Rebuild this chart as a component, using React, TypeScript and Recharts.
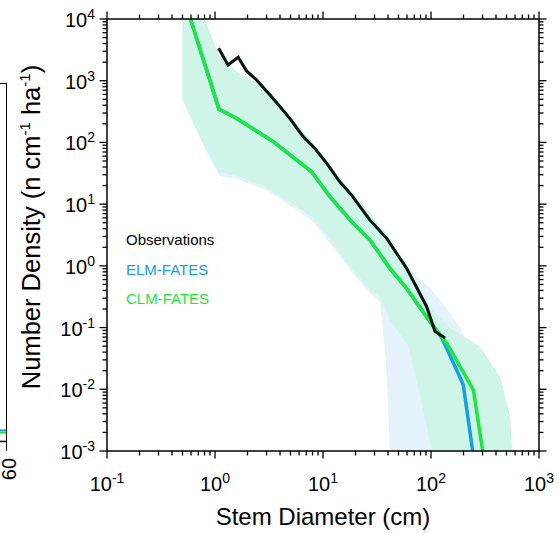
import React from 'react';
import { ComposedChart, Area, Line, XAxis, YAxis } from 'recharts';

// stem diameter (cm) where the ensemble ranges are sampled
const bandDiam = [0.5, 0.8, 1.1, 1.6, 3.0, 5.7, 8.1, 12.4, 17.8, 27.2, 33.7, 38.3, 41.7, 51.6, 61.2, 79.1, 102, 150, 207, 285, 436, 540, 564];
const clmLow = [487, 87.5, 33.2, 28.6, 18.9, 9.0, 5.96, 2.34, 0.99, 0.406, 0.313, 0.193, 0.133, 0.0786, 0.0522, 0.0081, 0.001, 1e-4, 1e-4, 1e-4, 1e-4, 1e-4, 1e-4];
const clmHigh = [50000, 10000, 2420, 1384, 734, 199, 98, 37.1, 16.9, 7.18, 4.42, 3.41, 2.83, 1.5, 0.795, 0.337, 0.193, 0.0983, 0.0678, 0.0484, 0.0158, 0.00355, 0.001];
const elmLow = [487, 81.2, 28.6, 25.5, 16.9, 8.03, 5.13, 2.02, 0.856, 0.363, 0.259, 0.0298, 0.001, 1e-4, 1e-4, 1e-4, 1e-4, 1e-4, 1e-4, 1e-4, 1e-4, 1e-4, 1e-4];
const elmHigh = [50000, 10000, 2420, 1384, 734, 199, 98, 37.1, 16.9, 7.18, 4.42, 3.41, 2.83, 1.5, 0.994, 0.589, 0.406, 0.172, 0.0703, 0.0484, 0.0158, 0.00355, 0.001];

// observations
const obsDiam = [1.08, 1.32, 1.64, 1.96, 2.42, 3.34, 4.93, 6.55, 8.41, 10.8, 14.3, 18.4, 27.2, 38.8, 59.5, 91, 109, 135];
const obsDens = [3350, 1800, 2400, 1440, 1030, 550, 246, 124, 80, 46, 23, 14, 5.5, 2.8, 0.91, 0.22, 0.086, 0.068];

// model means
const clmDiam = [0.593, 1.09, 1.58, 3.46, 6.11, 7.84, 11.6, 18.4, 27.2, 41.7, 59.5, 97.9, 140, 179, 247, 301];
const clmDens = [10000, 344, 246, 103, 47, 33.5, 13.2, 5.2, 2.62, 0.91, 0.43, 0.124, 0.0555, 0.0263, 0.0097, 0.001];
const elmDiam = [0.593, 1.09, 1.58, 3.46, 6.11, 7.84, 11.6, 18.4, 27.2, 41.7, 59.5, 97.9, 126, 173, 199, 243];
const elmDens = [10000, 344, 246, 103, 47, 33.5, 13.2, 5.2, 2.62, 0.91, 0.43, 0.124, 0.0677, 0.0205, 0.0118, 0.001];

// cut-off neighbour panel, only its last bit is visible
const sideVals = { obs: 0.026, elm: 0.056, clm: 0.05 };

const xTicks = [0.1, 1, 10, 100].flatMap((d) => [1, 2, 3, 4, 5, 6, 7, 8, 9].map((m) => +(d * m).toPrecision(3))).concat([1000]);
const yTicks = [0.001, 0.01, 0.1, 1, 10, 100, 1000].flatMap((d) => [1, 2, 3, 4, 5, 6, 7, 8, 9].map((m) => +(d * m).toPrecision(3))).concat([10000]);

const BLUE = '#14a0e6';
const GREEN = '#1ee641';
const FONT = '"Liberation Sans", Arial, Helvetica, sans-serif';

const bandData = bandDiam.map((d, i) => ({ d, clm: [clmLow[i], clmHigh[i]], elm: [elmLow[i], elmHigh[i]] }));
const obsData = obsDiam.map((d, i) => ({ d, v: obsDens[i] }));
const clmData = clmDiam.map((d, i) => ({ d, v: clmDens[i] }));
const elmData = elmDiam.map((d, i) => ({ d, v: elmDens[i] }));

const isMajor = (v: number) => Math.abs(Math.log10(v) - Math.round(Math.log10(v))) < 1e-6;

const LogTick = (props: any) => {
    const { x, y, payload, side, labels } = props;
    const v = payload.value;
    const major = isMajor(v);
    const len = major ? 7.5 : 4.5;
    let x2 = x, y2 = y;
    if (side === 'bottom') y2 = y + len;
    if (side === 'top') y2 = y - len;
    if (side === 'left') x2 = x - len;
    if (side === 'right') x2 = x + len;
    const exp = Math.round(Math.log10(v));
    let label = null;
    if (labels && major) {
        const tx = side === 'left' ? x - 12 : x;
        const ty = side === 'left' ? y + 8 : y + 40;
        label = (
            <text x={tx} y={ty} textAnchor={side === 'left' ? 'end' : 'middle'} fontSize={20} fontFamily={FONT} fill="#000">
                10<tspan fontSize={14} dy={-8}>{exp}</tspan>
            </text>
        );
    }
    return (
        <g>
            <line x1={x} y1={y} x2={x2} y2={y2} stroke="#000" strokeWidth={1.3} />
            {label}
        </g>
    );
};

const axisLine = { stroke: '#000', strokeWidth: 1.5 };

const App = () => {
    return (
        <div style={{ position: 'absolute', left: 0, top: 0, width: 559, height: 533, background: '#fff', fontFamily: FONT }}>
            {/* left neighbour panel (cut off) */}
            <div style={{ position: 'absolute', left: 0, top: 84 }}>
                <ComposedChart width={7} height={367} margin={{ top: 0, right: 0, left: 0, bottom: 0 }}>
                    <XAxis type="number" dataKey="d" domain={[0, 1]} hide />
                    <YAxis type="number" domain={[0, 1]} hide />
                    <Line data={[{ d: 0, v: sideVals.obs }, { d: 1, v: sideVals.obs }]} dataKey="v" stroke="#000" strokeWidth={1.5} dot={false} isAnimationActive={false} />
                    <Line data={[{ d: 0, v: sideVals.elm }, { d: 1, v: sideVals.elm }]} dataKey="v" stroke={BLUE} strokeWidth={2} dot={false} isAnimationActive={false} />
                    <Line data={[{ d: 0, v: sideVals.clm }, { d: 1, v: sideVals.clm }]} dataKey="v" stroke={GREEN} strokeWidth={2} dot={false} isAnimationActive={false} />
                </ComposedChart>
            </div>
            <div style={{ position: 'absolute', left: 0, top: 83, width: 6, height: 367, borderTop: '1.5px solid #000', borderRight: '1.5px solid #000' }} />
            <div style={{ position: 'absolute', left: -3, top: 459, width: 24, height: 20, fontSize: 20, lineHeight: '20px', textAlign: 'center', transform: 'rotate(-90deg)', transformOrigin: 'center' }}>60</div>

            <ComposedChart width={559} height={533} data={bandData} margin={{ top: 0, right: 0, left: 0, bottom: 0 }}>
                <XAxis xAxisId={0} type="number" dataKey="d" scale="log" domain={[0.1, 1000]} allowDataOverflow ticks={xTicks} interval={0}
                    height={82} tickSize={0} tickMargin={0} tickLine={false} axisLine={axisLine}
                    tick={(p: any) => <LogTick {...p} side="bottom" labels />} />
                <XAxis xAxisId="top" orientation="top" type="number" dataKey="d" scale="log" domain={[0.1, 1000]} allowDataOverflow ticks={xTicks} interval={0}
                    height={19} tickSize={0} tickMargin={0} tickLine={false} axisLine={axisLine}
                    tick={(p: any) => <LogTick {...p} side="top" />} />
                <YAxis yAxisId={0} type="number" scale="log" domain={[0.001, 10000]} allowDataOverflow ticks={yTicks} interval={0}
                    width={107} tickSize={0} tickMargin={0} tickLine={false} axisLine={axisLine}
                    tick={(p: any) => <LogTick {...p} side="left" labels />} />
                <YAxis yAxisId="right" orientation="right" type="number" scale="log" domain={[0.001, 10000]} allowDataOverflow ticks={yTicks} interval={0}
                    width={20} tickSize={0} tickMargin={0} tickLine={false} axisLine={axisLine}
                    tick={(p: any) => <LogTick {...p} side="right" />} />

                <Area dataKey="elm" type="linear" fill="#e4f2fc" fillOpacity={1} stroke="none" isAnimationActive={false} activeDot={false} />
                <Area dataKey="clm" type="linear" fill="#cef5e7" fillOpacity={1} stroke="none" isAnimationActive={false} activeDot={false} />

                <Line data={elmData} dataKey="v" type="linear" stroke={BLUE} strokeWidth={3.5} dot={false} activeDot={false} isAnimationActive={false} />
                <Line data={clmData} dataKey="v" type="linear" stroke={GREEN} strokeWidth={3.5} dot={false} activeDot={false} isAnimationActive={false} />
                <Line data={obsData} dataKey="v" type="linear" stroke="#08140e" strokeWidth={3} dot={false} activeDot={false} isAnimationActive={false} />
            </ComposedChart>

            {/* legend */}
            <div style={{ position: 'absolute', left: 126, top: 232, fontSize: 15, lineHeight: '15px', color: '#000' }}>Observations</div>
            <div style={{ position: 'absolute', left: 126, top: 262, fontSize: 15, lineHeight: '15px', color: BLUE }}>ELM-FATES</div>
            <div style={{ position: 'absolute', left: 126, top: 291, fontSize: 15, lineHeight: '15px', color: GREEN }}>CLM-FATES</div>

            {/* axis titles */}
            <div style={{ position: 'absolute', left: 123, top: 505, width: 400, textAlign: 'center', fontSize: 24, lineHeight: '24px' }}>Stem Diameter (cm)</div>
            <div style={{ position: 'absolute', left: 31 - 200, top: 227 - 13, width: 400, height: 26, textAlign: 'center', fontSize: 25.5, lineHeight: '26px', transform: 'rotate(-90deg)', transformOrigin: 'center', whiteSpace: 'nowrap' }}>
                Number Density (n cm<span style={{ fontSize: 15, position: 'relative', top: -10 }}>-1</span> ha<span style={{ fontSize: 15, position: 'relative', top: -10 }}>-1</span>)
            </div>
        </div>
    );
};

export default App;
